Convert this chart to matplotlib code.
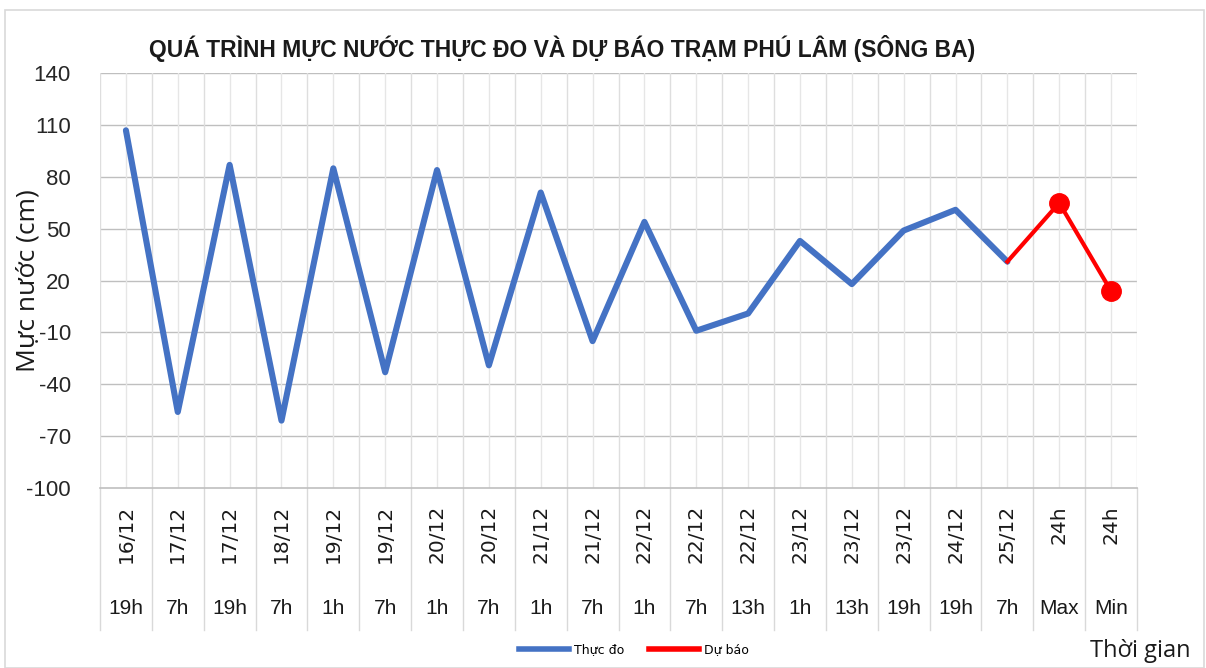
import numpy as np
import matplotlib
matplotlib.use('Agg')
import matplotlib.pyplot as plt
import matplotlib.transforms as mtransforms
from matplotlib.lines import Line2D
from matplotlib.patches import Rectangle

cat_dates = ['16/12', '17/12', '17/12', '18/12', '19/12', '19/12', '20/12', '20/12', '21/12', '21/12',
             '22/12', '22/12', '22/12', '23/12', '23/12', '23/12', '24/12', '25/12', '24h', '24h']
cat_hours = ['19h', '7h', '19h', '7h', '1h', '7h', '1h', '7h', '1h', '7h',
             '1h', '7h', '13h', '1h', '13h', '19h', '19h', '7h', 'Max', 'Min']

# measured water level (cm) - "Thực đo"
measured = [107, -56, 87, -61, 85, -33, 84, -29, 71, -15, 54, -9, 1, 43, 18, 49, 61, 31]
# forecast - "Dự báo" (starts from last measured point)
forecast = [31, 65, 14]
forecast_start = 17

yticks = [-100, -70, -40, -10, 20, 50, 80, 110, 140]

W, H = 1206, 668
fig = plt.figure(figsize=(W / 100, H / 100), dpi=100)

# outer chart frame
fig.patches.append(Rectangle((5 / W, 0), 1199 / W, (H - 10) / H, transform=fig.transFigure,
                             fill=False, edgecolor='#d9d9d9', linewidth=1.2))

left, right, top, bottom = 100, 1137, 73.3, 488
ax = fig.add_axes([left / W, 1 - bottom / H, (right - left) / W, (bottom - top) / H])

n = len(cat_dates)
x = np.arange(n)
ax.set_xlim(-0.5, n - 0.5)
ax.set_ylim(-100, 140)
ax.set_yticks(yticks)
ax.set_yticklabels([str(v) for v in yticks], fontsize=16, family='Liberation Sans', color='#262626')
ax.tick_params(axis='y', length=0, pad=21)
ax.set_xticks([])

for s in ['top', 'right', 'left']:
    ax.spines[s].set_visible(False)
ax.spines['bottom'].set_color('#bfbfbf')
ax.spines['bottom'].set_linewidth(1.2)

# gridlines
for v in yticks[1:]:
    ax.axhline(v, color='#bfbfbf', linewidth=1.0, zorder=1)
for i in range(n):
    ax.axvline(i, color='#e6e6e6', linewidth=1.0, zorder=1)
for i in range(n + 1):
    ax.axvline(i - 0.5, color='#dedede', linewidth=1.0, zorder=1)

# series
ax.plot(x[:len(measured)], measured, color='#4472C4', linewidth=4.4,
        solid_joinstyle='round', solid_capstyle='round', zorder=3)
fx = x[forecast_start:forecast_start + len(forecast)]
ax.plot(fx, forecast, color='#FF0000', linewidth=3.0, marker='o', markersize=14,
        markevery=[1, 2], solid_joinstyle='round', zorder=4)

# two-level category axis
ax_h = bottom - top
trans = mtransforms.blended_transform_factory(ax.transData, ax.transAxes)
sep_bottom = -(630 - bottom) / ax_h
for i in range(n + 1):
    ax.plot([i - 0.5, i - 0.5], [0, sep_bottom], transform=trans, color='#d9d9d9',
            linewidth=1.0, clip_on=False)
for i in range(n):
    ax.text(i, -(505 - bottom) / ax_h, cat_dates[i], transform=trans, rotation=90,
            ha='center', va='top', fontsize=14.5, family='DejaVu Sans', color='#1a1a1a')
    ax.text(i, -(608 - bottom) / ax_h, cat_hours[i], transform=trans,
            ha='center', va='center', fontsize=15, family='Liberation Sans',
            color='#1a1a1a')

ax.set_ylabel('Mực nước (cm)', fontsize=19, family='Open Sans', color='#1a1a1a')
ax.yaxis.set_label_coords(-(left - 41) / (right - left), (bottom - 281) / ax_h)

fig.text(562 / W, 1 - 48 / H, 'QUÁ TRÌNH MỰC NƯỚC THỰC ĐO VÀ DỰ BÁO TRẠM PHÚ LÂM (SÔNG BA)',
         ha='center', va='center', fontsize=16.5, fontweight='bold',
         family='Liberation Sans', color='#1a1a1a')

fig.text(1140 / W, 1 - 651 / H, 'Thời gian', ha='center', va='center', fontsize=17,
         family='Open Sans', color='#1a1a1a')

handles = [Line2D([], [], color='#4472C4', linewidth=4),
           Line2D([], [], color='#FF0000', linewidth=4)]
fig.legend(handles, ['Thực đo', 'Dự báo'], loc='center', bbox_to_anchor=(634 / W, 1 - 650 / H),
           ncol=2, frameon=False, handlelength=4, columnspacing=2.0, handletextpad=0.4,
           prop={'family': 'DejaVu Sans', 'size': 9})

fig.savefig('out.png', dpi=100)
